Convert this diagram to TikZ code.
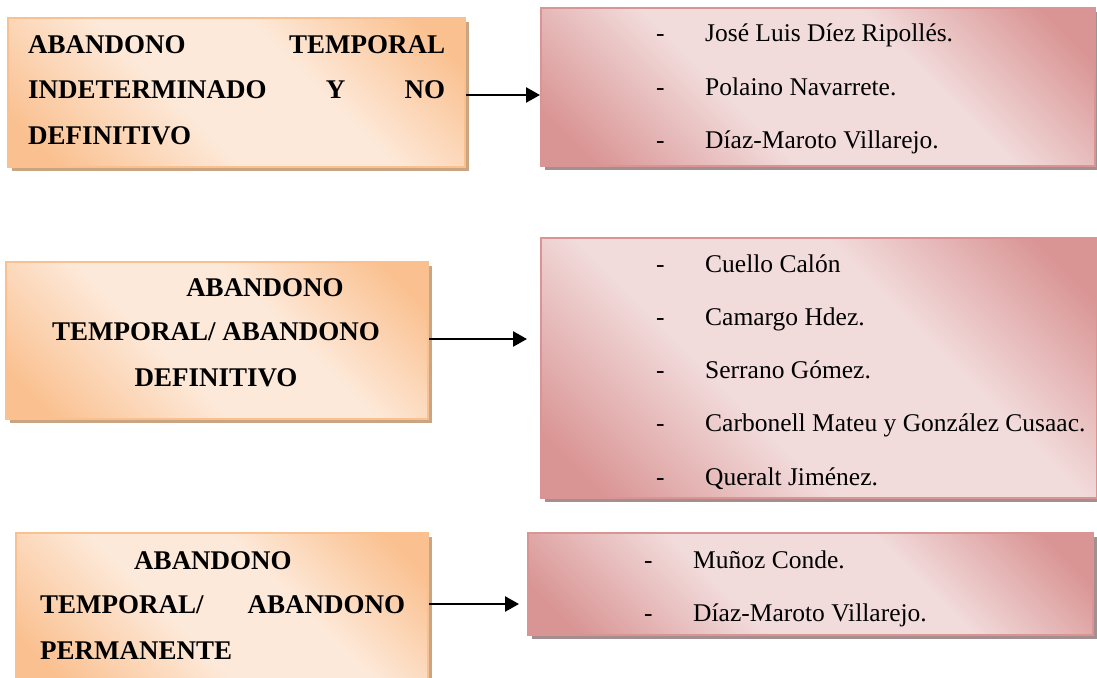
\documentclass[tikz,border=0pt]{standalone}
\usepackage{fontspec}
\setmainfont{Liberation Serif}
\usetikzlibrary{arrows.meta}

\definecolor{odark}{HTML}{FAC08F}
\definecolor{olight}{HTML}{FDE9D9}
\definecolor{oedge}{HTML}{FAC090}
\definecolor{oshadow}{HTML}{C9A582}
\definecolor{pdark}{HTML}{D99594}
\definecolor{plight}{HTML}{F2DBDB}
\definecolor{pedge}{HTML}{D99594}
\definecolor{pshadow}{HTML}{A48E90}

% diagonal gradients: dark corners, light band through the middle
\pgfdeclarehorizontalshading{orangegrad}{100bp}{%
  color(0bp)=(odark); color(20bp)=(odark); color(42bp)=(olight);
  color(60bp)=(olight); color(80bp)=(odark); color(100bp)=(odark)}
\pgfdeclarehorizontalshading{pinkgrad}{100bp}{%
  color(0bp)=(pdark); color(20bp)=(pdark); color(40bp)=(plight);
  color(62bp)=(plight); color(80bp)=(pdark); color(100bp)=(pdark)}

\tikzset{
  termbox/.style={shading=orangegrad, shading angle=45, draw=oedge, line width=2pt},
  termshadow/.style={fill=oshadow},
  authbox/.style={shading=pinkgrad, shading angle=45, draw=pedge, line width=2pt},
  authshadow/.style={fill=pshadow},
  term/.style={font=\fontsize{27}{30}\bfseries, inner sep=0pt},
  author/.style={font=\fontsize{25.5}{30}\selectfont, inner sep=0pt, anchor=base west},
  link/.style={line width=2.6pt, -{Triangle[length=14pt,width=15pt]}},
}

\begin{document}
\begin{tikzpicture}[x=1pt, y=-1pt]
\useasboundingbox (0,0) rectangle (1097,677);

% ---- boxes (shadow first, then shaded box) ----
\fill[termshadow] (12,22) rectangle (469,171);
\path[termbox] (8,18) rectangle (465,167);
\fill[authshadow] (545,12) rectangle (1099,170);
\path[authbox] (541,8) rectangle (1095,166);

\fill[termshadow] (10,266) rectangle (432,423);
\path[termbox] (6,262) rectangle (428,419);
\fill[authshadow] (545,242) rectangle (1101,502);
\path[authbox] (541,238) rectangle (1097,498);

\fill[termshadow] (20,537) rectangle (432,681);
\path[termbox] (16,533) rectangle (428,680);
\fill[authshadow] (532,537) rectangle (1097,639);
\path[authbox] (528,533) rectangle (1093,635);

% ---- connector end points ----
\coordinate (t1) at (466,95);
\coordinate (a1) at (540,95);
\coordinate (t2) at (429,339);
\coordinate (a2) at (527,339);
\coordinate (t3) at (429,604);
\coordinate (a3) at (519,604);

% ---- first group ----
\node[term, anchor=base west, text width=417pt, align=left] (t1l1) at (28,53.5) {ABANDONO\hfill TEMPORAL};
\node[term, anchor=base west, text width=417pt, align=left] (t1l2) at (28,98.5) {INDETERMINADO\hfill Y\hfill NO};
\node[term, anchor=base west] (t1l3) at (28,144.5) {DEFINITIVO};

\node[author] (d11) at (656,42) {-};
\node[author] (n11) at (705,42) {José Luis Díez Ripollés.};
\node[author] (d12) at (656,95) {-};
\node[author] (n12) at (705,95) {Polaino Navarrete.};
\node[author] (d13) at (656,148) {-};
\node[author] (n13) at (705,148) {Díaz-Maroto Villarejo.};

% ---- second group ----
\node[term, anchor=base] (t2l1) at (265,296.5) {ABANDONO};
\node[term, anchor=base] (t2l2) at (216,340.5) {TEMPORAL/ ABANDONO};
\node[term, anchor=base] (t2l3) at (216,386.5) {DEFINITIVO};

\node[author] (d21) at (656,272) {-};
\node[author] (n21) at (705,272) {Cuello Calón};
\node[author] (d22) at (656,325) {-};
\node[author] (n22) at (705,325) {Camargo Hdez.};
\node[author] (d23) at (656,378) {-};
\node[author] (n23) at (705,378) {Serrano Gómez.};
\node[author] (d24) at (656,431) {-};
\node[author] (n24) at (705,431) {Carbonell Mateu y González Cusaac.};
\node[author] (d25) at (656,485) {-};
\node[author] (n25) at (705,485) {Queralt Jiménez.};

% ---- third group ----
\node[term, anchor=base] (t3l1) at (213,569.5) {ABANDONO};
\node[term, anchor=base west, text width=365pt, align=left] (t3l2) at (40,613.5) {TEMPORAL/\hfill ABANDONO};
\node[term, anchor=base west] (t3l3) at (40,659.5) {PERMANENTE};

\node[author] (d31) at (644,568) {-};
\node[author] (n31) at (693,568) {Muñoz Conde.};
\node[author] (d32) at (644,621) {-};
\node[author] (n32) at (693,621) {Díaz-Maroto Villarejo.};

% ---- connectors ----
\draw[link] (t1) -- (a1);
\draw[link] (t2) -- (a2);
\draw[link] (t3) -- (a3);
\end{tikzpicture}
\end{document}
